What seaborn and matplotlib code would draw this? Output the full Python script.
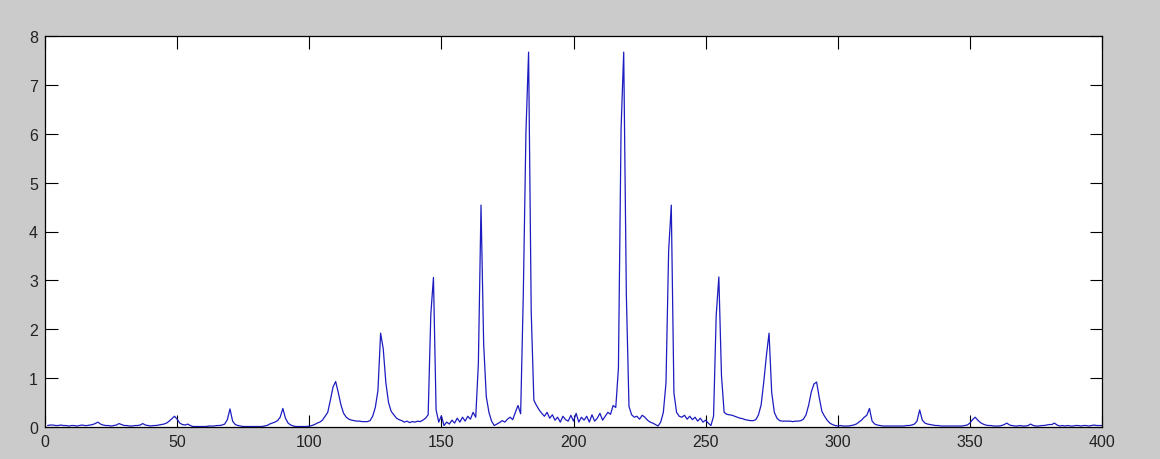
import matplotlib
matplotlib.use("Agg")
import numpy as np
import pandas as pd
import seaborn as sns
import matplotlib.pyplot as plt

# spectrum, one value per sample (samples 1..400)
amplitude = [
    0.03, 0.04, 0.04, 0.03, 0.03, 0.04, 0.03, 0.03, 0.02, 0.03,
    0.03, 0.02, 0.03, 0.04, 0.03, 0.03, 0.04, 0.05, 0.07, 0.10,
    0.06, 0.04, 0.03, 0.03, 0.02, 0.03, 0.04, 0.07, 0.05, 0.03,
    0.03, 0.02, 0.02, 0.03, 0.03, 0.04, 0.07, 0.04, 0.03, 0.02,
    0.03, 0.03, 0.04, 0.05, 0.06, 0.08, 0.12, 0.17, 0.22, 0.16,
    0.08, 0.05, 0.04, 0.06, 0.03, 0.01, 0.01, 0.01, 0.01, 0.01,
    0.01, 0.02, 0.02, 0.02, 0.03, 0.03, 0.04, 0.06, 0.15, 0.37,
    0.12, 0.05, 0.03, 0.02, 0.01, 0.01, 0.01, 0.01, 0.01, 0.01,
    0.01, 0.01, 0.02, 0.03, 0.06, 0.08, 0.10, 0.13, 0.20, 0.38,
    0.18, 0.08, 0.04, 0.02, 0.01, 0.01, 0.01, 0.01, 0.01, 0.02,
    0.03, 0.05, 0.08, 0.10, 0.14, 0.22, 0.30, 0.55, 0.82, 0.93,
    0.70, 0.45, 0.28, 0.20, 0.16, 0.14, 0.13, 0.12, 0.12, 0.11,
    0.11, 0.11, 0.13, 0.22, 0.40, 0.75, 1.92, 1.60, 0.90, 0.50,
    0.32, 0.25, 0.18, 0.15, 0.13, 0.10, 0.12, 0.09, 0.11, 0.10,
    0.12, 0.11, 0.14, 0.18, 0.25, 2.30, 3.06, 0.35, 0.10, 0.23,
    0.03, 0.10, 0.06, 0.14, 0.08, 0.18, 0.10, 0.20, 0.12, 0.22,
    0.16, 0.30, 0.20, 1.30, 4.54, 1.70, 0.62, 0.30, 0.12, 0.03,
    0.06, 0.09, 0.13, 0.10, 0.16, 0.20, 0.15, 0.30, 0.44, 0.27,
    2.70, 6.03, 7.67, 2.35, 0.55, 0.44, 0.35, 0.28, 0.22, 0.30,
    0.18, 0.25, 0.14, 0.20, 0.10, 0.22, 0.15, 0.12, 0.24, 0.12,
    0.28, 0.10, 0.20, 0.14, 0.22, 0.10, 0.25, 0.12, 0.18, 0.28,
    0.14, 0.22, 0.30, 0.26, 0.44, 0.40, 1.20, 6.10, 7.67, 2.70,
    0.42, 0.25, 0.20, 0.22, 0.16, 0.24, 0.20, 0.14, 0.10, 0.08,
    0.05, 0.02, 0.10, 0.30, 0.90, 3.60, 4.54, 0.70, 0.30, 0.22,
    0.20, 0.24, 0.16, 0.22, 0.15, 0.20, 0.12, 0.18, 0.10, 0.14,
    0.08, 0.03, 0.22, 2.28, 3.07, 1.05, 0.30, 0.26, 0.25, 0.24,
    0.22, 0.20, 0.18, 0.17, 0.15, 0.14, 0.13, 0.13, 0.15, 0.25,
    0.45, 0.92, 1.46, 1.92, 0.71, 0.30, 0.18, 0.13, 0.12, 0.12,
    0.12, 0.12, 0.11, 0.12, 0.12, 0.13, 0.16, 0.25, 0.45, 0.72,
    0.88, 0.92, 0.60, 0.32, 0.22, 0.14, 0.08, 0.05, 0.03, 0.02,
    0.03, 0.02, 0.02, 0.02, 0.03, 0.04, 0.06, 0.10, 0.14, 0.20,
    0.24, 0.38, 0.12, 0.06, 0.04, 0.03, 0.02, 0.02, 0.02, 0.02,
    0.02, 0.02, 0.02, 0.02, 0.02, 0.03, 0.03, 0.04, 0.06, 0.12,
    0.35, 0.14, 0.08, 0.06, 0.05, 0.04, 0.03, 0.03, 0.02, 0.02,
    0.02, 0.02, 0.02, 0.02, 0.02, 0.02, 0.02, 0.03, 0.04, 0.08,
    0.15, 0.20, 0.14, 0.09, 0.06, 0.04, 0.03, 0.03, 0.02, 0.02,
    0.02, 0.03, 0.05, 0.08, 0.04, 0.03, 0.02, 0.02, 0.03, 0.02,
    0.02, 0.03, 0.06, 0.03, 0.02, 0.02, 0.03, 0.03, 0.04, 0.05,
    0.05, 0.08, 0.04, 0.02, 0.03, 0.02, 0.03, 0.02, 0.02, 0.03,
    0.03, 0.02, 0.03, 0.03, 0.02, 0.03, 0.04, 0.03, 0.03, 0.03,
]
sample = np.arange(1, len(amplitude) + 1)

x_ticks = [0, 50, 100, 150, 200, 250, 300, 350, 400]
y_ticks = [0, 1, 2, 3, 4, 5, 6, 7, 8]

df = pd.DataFrame({"sample": sample, "amplitude": amplitude})

sns.set_style("ticks")
plt.rcParams['font.family'] = ['Liberation Sans', 'DejaVu Sans']

fig = plt.figure(figsize=(11.6, 4.6), dpi=100, facecolor='#cbcbcb')
ax = fig.add_axes([45 / 1160, 32 / 460, 1057 / 1160, 391 / 460])
ax.set_facecolor('white')

sns.lineplot(data=df, x="sample", y="amplitude", ax=ax, color='#1c1cc0',
             linewidth=0.9, estimator=None)

ax.set_xlim(0, 400)
ax.set_ylim(0, 8)
ax.set_xticks(x_ticks)
ax.set_yticks(y_ticks)
ax.set_xlabel("")
ax.set_ylabel("")

for side in ax.spines.values():
    side.set_visible(True)
    side.set_color('black')
    side.set_linewidth(0.9)

ax.tick_params(direction='in', length=9, width=0.8, top=True, right=True,
               labelsize=11.5, pad=5, colors='black', labelcolor='#222222')

plt.savefig("out.png", dpi=100, facecolor=fig.get_facecolor())
